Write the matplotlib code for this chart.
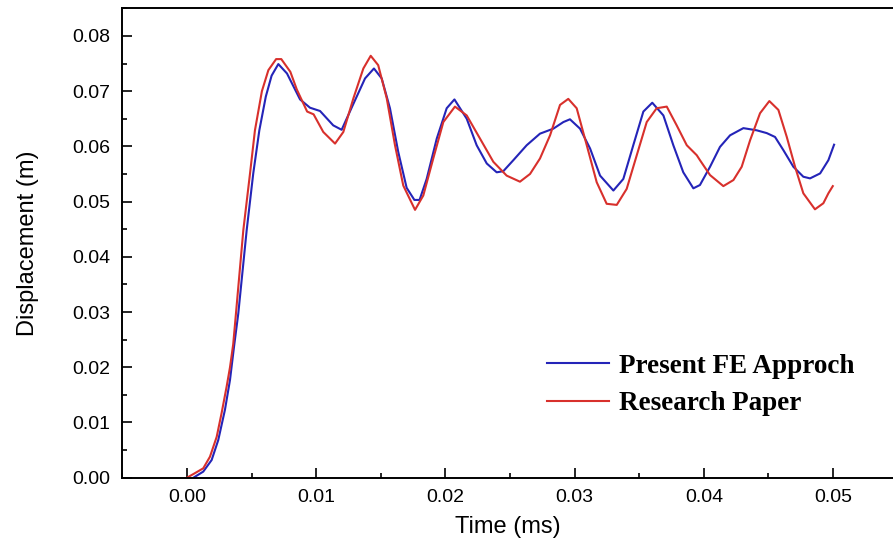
import matplotlib
matplotlib.use("Agg")
import matplotlib.pyplot as plt
from matplotlib.ticker import MultipleLocator

# Present FE approach (blue)
t_fe = [0.0005, 0.00126, 0.00191, 0.00242, 0.00294, 0.00333, 0.00364, 0.00397,
        0.00462, 0.00513, 0.0056, 0.0061, 0.00655, 0.00707, 0.00774, 0.00875,
        0.00952, 0.0103, 0.01132, 0.01197, 0.01288, 0.01378, 0.01447, 0.01507,
        0.01571, 0.01635, 0.017, 0.0176, 0.018, 0.01855, 0.01933, 0.0201, 0.0207,
        0.02165, 0.02242, 0.0232, 0.02397, 0.02448, 0.02526, 0.02629, 0.02732,
        0.02835, 0.02913, 0.02964, 0.03042, 0.0312, 0.03197, 0.033, 0.03377,
        0.03454, 0.03532, 0.03601, 0.03687, 0.03764, 0.03841, 0.03919, 0.0397,
        0.04048, 0.04125, 0.04203, 0.04306, 0.0441, 0.04487, 0.04551, 0.04616,
        0.04693, 0.0477, 0.04822, 0.049, 0.04964, 0.05008]
d_fe = [0.0, 0.0011, 0.0032, 0.0068, 0.0123, 0.0177, 0.0237, 0.0297,
        0.0448, 0.0551, 0.0629, 0.0690, 0.0728, 0.0749, 0.0732, 0.0685,
        0.0670, 0.0664, 0.0638, 0.0630, 0.0677, 0.0723, 0.0741, 0.0723,
        0.0669, 0.0590, 0.0525, 0.0503, 0.0503, 0.0541, 0.0614, 0.0669, 0.0685,
        0.0650, 0.0602, 0.0569, 0.0553, 0.0555, 0.0575, 0.0602, 0.0623,
        0.0632, 0.0644, 0.0649, 0.0632, 0.0596, 0.0547, 0.0520, 0.0541,
        0.0602, 0.0663, 0.0679, 0.0656, 0.0602, 0.0553, 0.0524, 0.0530,
        0.0563, 0.0599, 0.0620, 0.0633, 0.0629, 0.0624, 0.0617, 0.0593,
        0.0563, 0.0545, 0.0542, 0.0551, 0.0575, 0.0603]

# Research paper (red)
t_rp = [0.0, 0.0006, 0.00126, 0.00178, 0.0023, 0.00268, 0.00307, 0.00333,
        0.00358, 0.00379, 0.00436, 0.00488, 0.00526, 0.0058, 0.0063, 0.0069,
        0.0073, 0.0080, 0.0085, 0.0093, 0.0098, 0.01055, 0.01146, 0.0121,
        0.01288, 0.01365, 0.01422, 0.0148, 0.01546, 0.0161, 0.01674, 0.01765,
        0.01829, 0.01906, 0.01984, 0.02074, 0.02165, 0.02268, 0.02371, 0.02474,
        0.02577, 0.02655, 0.02732, 0.0281, 0.02887, 0.02951, 0.03016, 0.03094,
        0.03171, 0.03248, 0.03326, 0.03403, 0.03481, 0.03558, 0.03635, 0.03713,
        0.0379, 0.03868, 0.03945, 0.0397, 0.04048, 0.04151, 0.04229, 0.04293,
        0.04358, 0.04435, 0.04507, 0.04577, 0.04642, 0.04706, 0.0477, 0.0486,
        0.04925, 0.04964, 0.04998]
d_rp = [0.0, 0.0008, 0.0017, 0.0038, 0.0074, 0.0117, 0.0165, 0.0200,
        0.0242, 0.0297, 0.0448, 0.0551, 0.0629, 0.0700, 0.0738, 0.0758,
        0.0758, 0.0735, 0.0703, 0.0663, 0.0658, 0.0626, 0.0605, 0.0626,
        0.0687, 0.0741, 0.0764, 0.0747, 0.0687, 0.0602, 0.0529, 0.0485,
        0.0511, 0.0578, 0.0644, 0.0672, 0.0656, 0.0614, 0.0572, 0.0547,
        0.0536, 0.0550, 0.0578, 0.0620, 0.0675, 0.0686, 0.0669, 0.0602,
        0.0535, 0.0496, 0.0494, 0.0523, 0.0584, 0.0644, 0.0669, 0.0672,
        0.0638, 0.0602, 0.0584, 0.0575, 0.0548, 0.0528, 0.0539, 0.0563,
        0.0611, 0.0660, 0.0682, 0.0666, 0.0617, 0.0563, 0.0515, 0.0486,
        0.0497, 0.0515, 0.0528]

plt.rcParams['font.family'] = ['Liberation Sans', 'DejaVu Sans']

fig = plt.figure(figsize=(8.93, 5.46), dpi=100)
ax = fig.add_axes([0.1363, 0.1251, 0.8637, 0.8597])

ax.plot(t_fe, d_fe, color='#2424b8', lw=1.5, label='Present FE Approch')
ax.plot(t_rp, d_rp, color='#d8302c', lw=1.5, label='Research Paper')

ax.set_xlim(-0.00505, 0.05464)
ax.set_ylim(0, 0.085)
ax.xaxis.set_major_locator(MultipleLocator(0.01))
ax.xaxis.set_minor_locator(MultipleLocator(0.005))
ax.yaxis.set_major_locator(MultipleLocator(0.01))
ax.yaxis.set_minor_locator(MultipleLocator(0.005))
ax.xaxis.set_major_formatter(plt.FormatStrFormatter('%.2f'))
ax.yaxis.set_major_formatter(plt.FormatStrFormatter('%.2f'))
ax.tick_params(which='major', direction='in', length=7.5, width=1.2, labelsize=14, pad=8)
ax.tick_params(which='minor', direction='in', length=3.8, width=1.2)
for s in ['left', 'bottom', 'top']:
    ax.spines[s].set_linewidth(1.4)
ax.spines['right'].set_visible(False)

ax.set_xlabel('Time (ms)', fontsize=17, labelpad=7)
ax.set_ylabel('Displacement (m)', fontsize=17, labelpad=24)

ax.legend(loc='center left', bbox_to_anchor=(0.5514, 0.1975), frameon=False,
          borderpad=0, borderaxespad=0,
          handlelength=2.3, handletextpad=0.35, labelspacing=0.45,
          prop={'family': 'Liberation Serif', 'weight': 'bold', 'size': 19.5})

fig.savefig('out.png', dpi=100)
